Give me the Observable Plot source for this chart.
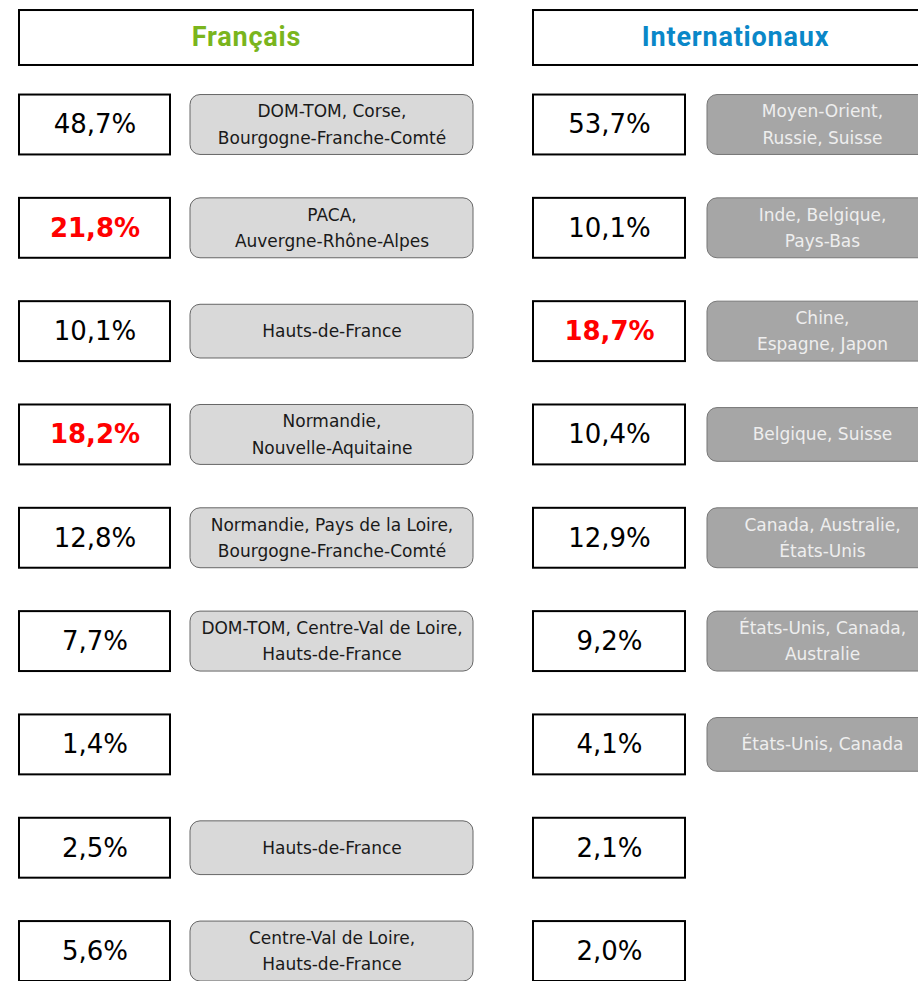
<!DOCTYPE html>
<html>
<head>
<meta charset="utf-8">
<script src="https://cdn.jsdelivr.net/npm/d3@7"></script>
<script src="https://cdn.jsdelivr.net/npm/@observablehq/plot@0.6"></script>
<style>
  html, body { margin: 0; padding: 0; background: #fff; }
  #chart svg { display: block; }
</style>
</head>
<body>
<div id="chart"></div>
<script>
// ---- data ----
const groups = ["Français", "Internationaux"];
const francaisValues = [48.7, 21.8, 10.1, 18.2, 12.8, 7.7, 1.4, 2.5, 5.6];
const francaisHighlight = [false, true, false, true, false, false, false, false, false];
const francaisRegions = [
  "DOM-TOM, Corse,\nBourgogne-Franche-Comté",
  "PACA,\nAuvergne-Rhône-Alpes",
  "Hauts-de-France",
  "Normandie,\nNouvelle-Aquitaine",
  "Normandie, Pays de la Loire,\nBourgogne-Franche-Comté",
  "DOM-TOM, Centre-Val de Loire,\nHauts-de-France",
  null,
  "Hauts-de-France",
  "Centre-Val de Loire,\nHauts-de-France"
];
const internationalValues = [53.7, 10.1, 18.7, 10.4, 12.9, 9.2, 4.1, 2.1, 2.0];
const internationalHighlight = [false, false, true, false, false, false, false, false, false];
const internationalRegions = [
  "Moyen-Orient,\nRussie, Suisse",
  "Inde, Belgique,\nPays-Bas",
  "Chine,\nEspagne, Japon",
  "Belgique, Suisse",
  "Canada, Australie,\nÉtats-Unis",
  "États-Unis, Canada,\nAustralie",
  "États-Unis, Canada",
  null,
  null
];

// ---- layout (not data) ----
const W = 918, H = 981;
const layout = {
  "Français":       {head: [19, 473], val: [19, 170], reg: [190, 473], color: "#7ab51d", regFill: "#d9d9d9", regText: "#1a1a1a", regStroke: "#666"},
  "Internationaux": {head: [533, 937], val: [533, 685], reg: [707, 937], color: "#0a87c8", regFill: "#a6a6a6", regText: "#eeeeee", regStroke: "#777"}
};
const headerRow = -0.842;
const BODY_FONT = "'DejaVu Sans', sans-serif";
const HEAD_FONT = "Roboto, sans-serif";

const fmt = v => v.toFixed(1).replace(".", ",") + "%";

const cells = [];
const regions = [];
[[groups[0], francaisValues, francaisHighlight, francaisRegions],
 [groups[1], internationalValues, internationalHighlight, internationalRegions]].forEach(([g, vals, hl, regs]) => {
  vals.forEach((v, i) => cells.push({group: g, row: i, value: v, highlight: hl[i]}));
  regs.forEach((r, i) => { if (r) regions.push({group: g, row: i, label: r, lines: r.split("\n").length}); });
});
const headers = groups.map(g => ({group: g, row: headerRow}));

const L = d => layout[d.group];
const hv = 0.29;   // half-height of value boxes in row units
const hh = 0.266;  // header half-height

const chart = Plot.plot({
  width: W,
  height: H,
  margin: 0,
  x: {type: "linear", domain: [0, W], range: [0, W], axis: null},
  y: {type: "linear", domain: [-1.205, 8.29], range: [0, H], axis: null},
  style: {fontFamily: BODY_FONT, background: "#fff"},
  marks: [
    // headers
    Plot.rect(headers, {
      x1: d => L(d).head[0], x2: d => L(d).head[1],
      y1: d => d.row - hh, y2: d => d.row + hh,
      fill: "white", stroke: "black", strokeWidth: 2
    }),
    Plot.text(headers, {
      x: d => (L(d).head[0] + L(d).head[1]) / 2, y: "row",
      text: "group", fill: d => L(d).color,
      fontSize: 27, fontWeight: "bold", fontFamily: HEAD_FONT,
      dy: -1
    }),
    // value boxes
    Plot.rect(cells, {
      x1: d => L(d).val[0], x2: d => L(d).val[1],
      y1: d => d.row - hv, y2: d => d.row + hv,
      fill: "white", stroke: "black", strokeWidth: 2
    }),
    Plot.text(cells.filter(d => !d.highlight), {
      x: d => (L(d).val[0] + L(d).val[1]) / 2, y: "row",
      text: d => fmt(d.value), fill: "black", fontSize: 26
    }),
    Plot.text(cells.filter(d => d.highlight), {
      x: d => (L(d).val[0] + L(d).val[1]) / 2, y: "row",
      text: d => fmt(d.value), fill: "#ff0000", fontSize: 26, fontWeight: "bold"
    }),
    // region boxes
    Plot.rect(regions, {
      x1: d => L(d).reg[0], x2: d => L(d).reg[1],
      y1: d => d.row - (d.lines > 1 ? 0.29 : 0.26), y2: d => d.row + (d.lines > 1 ? 0.29 : 0.26),
      fill: d => L(d).regFill, stroke: d => L(d).regStroke, strokeWidth: 1, rx: 10
    }),
    Plot.text(regions, {
      x: d => (L(d).reg[0] + L(d).reg[1]) / 2, y: "row",
      text: "label", fill: d => L(d).regText, fontSize: 17, lineHeight: 1.55,
      dy: -3
    })
  ]
});
// slight letter spacing on headers to match the wide reference face
chart.querySelectorAll("text").forEach(t => {
  if (t.textContent === "Français" || t.textContent === "Internationaux") t.setAttribute("letter-spacing", "0.8");
});
document.getElementById("chart").appendChild(chart);
</script>
</body>
</html>
